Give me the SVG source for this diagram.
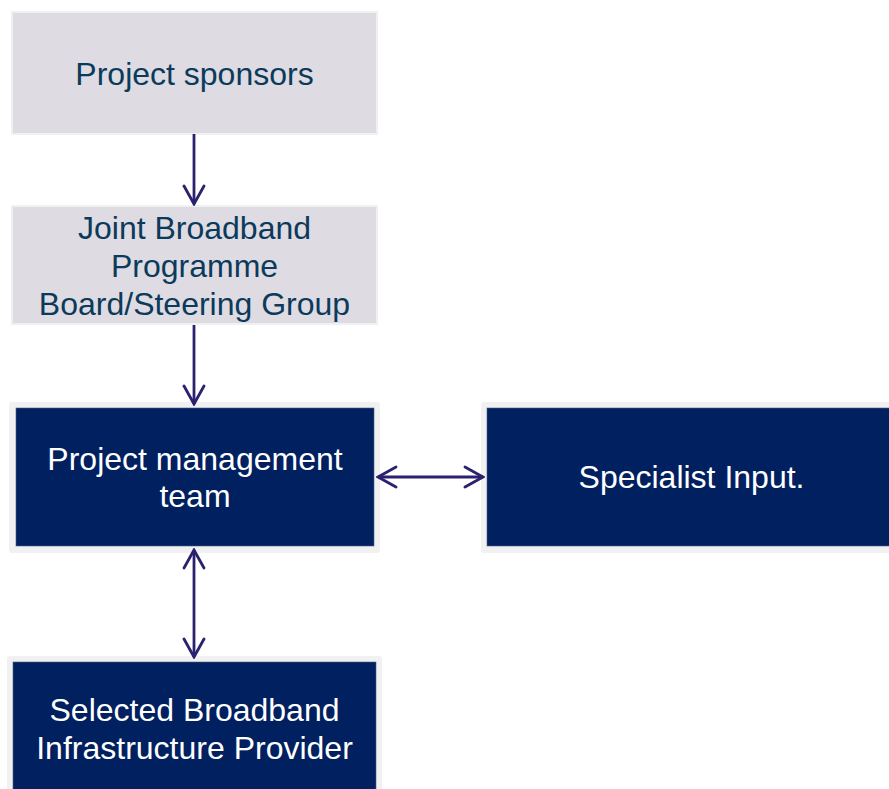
<svg xmlns="http://www.w3.org/2000/svg" width="889" height="789" viewBox="0 0 889 789">
  <style>
    .frame { fill: #f1f1f1; }
    .light { fill: #dedbe3; stroke: #f0eff2; stroke-width: 2; }
    .dark { fill: #00205f; stroke: #4a5f8a; stroke-width: 0.6; }
    .lt { font-family: "Liberation Sans", Arial, sans-serif; font-size: 32px; fill: #0b3a5a; text-anchor: middle; }
    .dt { font-family: "Liberation Sans", Arial, sans-serif; font-size: 32px; fill: #ffffff; text-anchor: middle; }
    .conn { stroke: #2a216f; stroke-width: 2.8; fill: none; }
  </style>
  <defs>
    <marker id="head" markerUnits="userSpaceOnUse" viewBox="-20 -12 22 24" refX="0" refY="0" markerWidth="22" markerHeight="24" orient="auto-start-reverse">
      <polyline points="-18,-10 0,0 -18,10" fill="none" stroke="#2a216f" stroke-width="2.8" stroke-linecap="round" stroke-linejoin="miter"/>
    </marker>
  </defs>
  <rect width="889" height="789" fill="#ffffff"/>

  <g id="sponsors">
    <rect class="light" x="12" y="12" width="365" height="122"/>
    <text class="lt" x="194.5" y="85">Project sponsors</text>
  </g>

  <g id="board">
    <rect class="light" x="12" y="206" width="365" height="118"/>
    <text class="lt" x="194.5" y="239">Joint Broadband</text>
    <text class="lt" x="194.5" y="277">Programme</text>
    <text class="lt" x="194.5" y="315">Board/Steering Group</text>
  </g>

  <g id="pmt">
    <rect class="frame" x="9" y="402" width="371" height="151" rx="3"/>
    <rect class="dark" x="16" y="408" width="358" height="138"/>
    <text class="dt" x="195" y="470">Project management</text>
    <text class="dt" x="195" y="507">team</text>
  </g>

  <g id="specialist">
    <rect class="frame" x="481" y="402" width="420" height="151" rx="3"/>
    <rect class="dark" x="487" y="408" width="410" height="138"/>
    <text class="dt" x="691.5" y="488">Specialist Input.</text>
  </g>

  <g id="provider">
    <rect class="frame" x="7" y="656" width="375" height="150" rx="3"/>
    <rect class="dark" x="13" y="662" width="363" height="140"/>
    <text class="dt" x="194.5" y="721">Selected Broadband</text>
    <text class="dt" x="194.5" y="759">Infrastructure Provider</text>
  </g>

  <g id="connectors">
    <line class="conn" x1="194" y1="134" x2="194" y2="204" marker-end="url(#head)"/>
    <line class="conn" x1="194" y1="325" x2="194" y2="404" marker-end="url(#head)"/>
    <line class="conn" x1="378" y1="477" x2="483" y2="477" marker-start="url(#head)" marker-end="url(#head)"/>
    <line class="conn" x1="194" y1="550" x2="194" y2="657" marker-start="url(#head)" marker-end="url(#head)"/>
  </g>
</svg>
